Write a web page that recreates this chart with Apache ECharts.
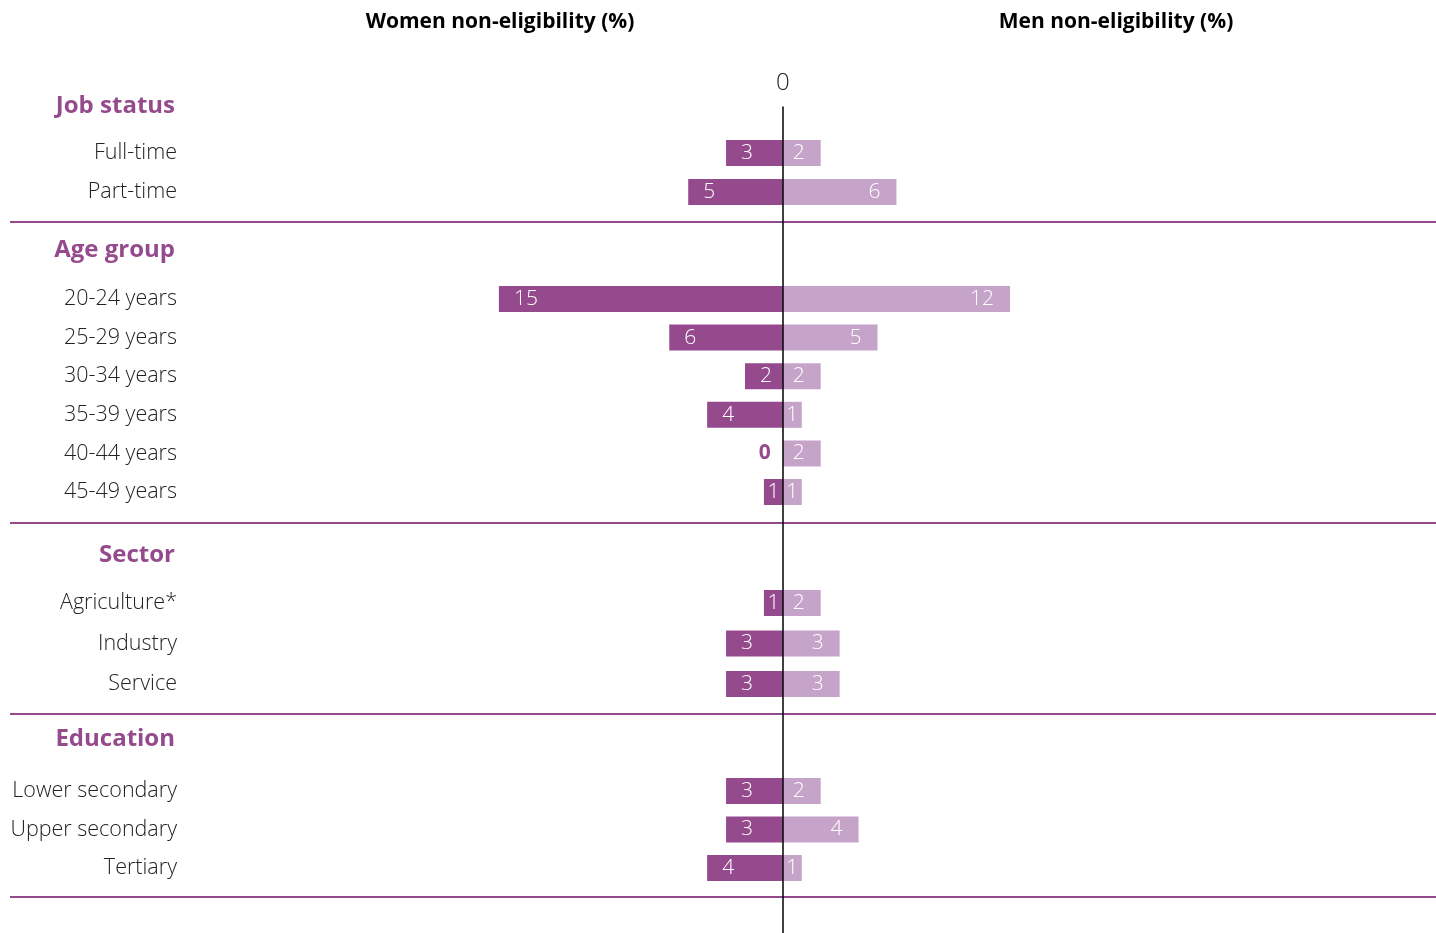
<!DOCTYPE html>
<html>
<head>
<meta charset="utf-8">
<script src="https://cdn.jsdelivr.net/npm/echarts@6/dist/echarts.min.js"></script>
<style>html,body{margin:0;padding:0;background:#fff;}#c{width:1436px;height:933px;}</style>
</head>
<body>
<div id="c"></div>
<script>
// ---- data ----
const groupNames = ['Job status', 'Age group', 'Sector', 'Education'];
const jobCats = ['Full-time', 'Part-time'];
const ageCats = ['20-24 years', '25-29 years', '30-34 years', '35-39 years', '40-44 years', '45-49 years'];
const sectorCats = ['Agriculture*', 'Industry', 'Service'];
const eduCats = ['Lower secondary', 'Upper secondary', 'Tertiary'];
const womenJob = [3, 5];
const menJob = [2, 6];
const womenAge = [15, 6, 2, 4, 0, 1];
const menAge = [12, 5, 2, 1, 2, 1];
const womenSector = [1, 3, 3];
const menSector = [2, 3, 3];
const womenEdu = [3, 3, 4];
const menEdu = [2, 4, 1];
const xTickLabels = ['0'];
const titleWomen = 'Women non-eligibility (%)';
const titleMen = 'Men non-eligibility (%)';

// ---- layout (not data) ----
const groupCats = [jobCats, ageCats, sectorCats, eduCats];
const groupWomen = [womenJob, womenAge, womenSector, womenEdu];
const groupMen = [menJob, menAge, menSector, menEdu];
const bandH = [39, 38.6, 40.5, 38.5];
const firstCenter = [153, 299, 603, 791];
const headerY = [106, 250, 555, 739];
const sepY = [222, 523, 714, 897];
const LEFT = 196, RIGHT = 9.5, XMIN = -31, XMAX = 34;
const WOMEN_C = '#954a8e', MEN_C = '#c6a4c9';
const FONT = '"Open Sans", "Noto Sans", sans-serif';

const grids = [], xAxes = [], yAxes = [], series = [];
groupCats.forEach((cats, i) => {
  const top = firstCenter[i] - bandH[i] / 2;
  grids.push({ left: LEFT, right: RIGHT, top: top, height: bandH[i] * cats.length });
  xAxes.push({ gridIndex: i, type: 'value', min: XMIN, max: XMAX, show: false });
  yAxes.push({
    gridIndex: i, type: 'category', data: cats, inverse: true,
    axisLine: { show: false }, axisTick: { show: false }, splitLine: { show: false },
    axisLabel: { fontSize: 21.5, color: '#222', margin: 19, fontFamily: FONT, fontWeight: 300, padding: [5, 0, 0, 0] }
  });
  const wData = groupWomen[i].map(v => {
    const item = { value: -v };
    if (v === 0) item.label = { position: 'left', distance: 12, color: WOMEN_C, fontWeight: 'bold' };
    else if (v <= 1) item.label = { position: 'inside' };
    return item;
  });
  const mData = groupMen[i].map(v => {
    const item = { value: v };
    if (v <= 1) item.label = { position: 'inside' };
    return item;
  });
  series.push({
    type: 'bar', xAxisIndex: i, yAxisIndex: i, data: wData, barWidth: 26, barGap: '-100%',
    itemStyle: { color: WOMEN_C },
    label: { show: true, position: 'insideLeft', distance: 15, color: '#fff', fontSize: 21, fontFamily: FONT, fontWeight: 300,
      padding: [2, 0, 0, 0], formatter: p => String(Math.abs(p.value)) }
  });
  series.push({
    type: 'bar', xAxisIndex: i, yAxisIndex: i, data: mData, barWidth: 26, barGap: '-100%',
    itemStyle: { color: MEN_C },
    label: { show: true, position: 'insideRight', distance: 16, color: '#fff', fontSize: 21, fontFamily: FONT, fontWeight: 300,
      padding: [2, 0, 0, 0] }
  });
});

// background grid for zero line and "0" label
grids.push({ left: LEFT, right: RIGHT, top: 107, bottom: 0 });
xAxes.push({
  gridIndex: 4, type: 'value', min: XMIN, max: XMAX, interval: 31, position: 'top',
  axisLine: { show: false }, axisTick: { show: false }, splitLine: { show: false },
  axisLabel: { show: true, margin: 12, fontSize: 24, color: '#222', fontFamily: FONT, fontWeight: 300,
    formatter: v => (v === 0 ? xTickLabels[0] : '') }
});
yAxes.push({
  gridIndex: 4, type: 'value', min: 0, max: 1, z: 10,
  axisLine: { show: true, onZero: true, lineStyle: { color: '#000', width: 1.5 } },
  axisTick: { show: false }, axisLabel: { show: false }, splitLine: { show: false }
});

const graphic = [];
groupNames.forEach((g, i) => {
  graphic.push({ type: 'text', x: 175, y: headerY[i], style: { text: g, textAlign: 'right', textVerticalAlign: 'middle',
    fill: WOMEN_C, font: 'bold 24px ' + FONT } });
});
sepY.forEach(y => {
  graphic.push({ type: 'line', shape: { x1: 10, y1: y, x2: 1436, y2: y }, style: { stroke: WOMEN_C, lineWidth: 2 }, z: 1 });
});
graphic.push({ type: 'text', x: 500, y: 22, style: { text: titleWomen, textAlign: 'center', textVerticalAlign: 'middle',
  fill: '#000', font: 'bold 21px ' + FONT } });
graphic.push({ type: 'text', x: 1116, y: 22, style: { text: titleMen, textAlign: 'center', textVerticalAlign: 'middle',
  fill: '#000', font: 'bold 21px ' + FONT } });

const chart = echarts.init(document.getElementById('c'));
chart.setOption({
  animation: false,
  backgroundColor: '#fff',
  grid: grids, xAxis: xAxes, yAxis: yAxes, series: series, graphic: graphic
});
</script>
</body>
</html>
